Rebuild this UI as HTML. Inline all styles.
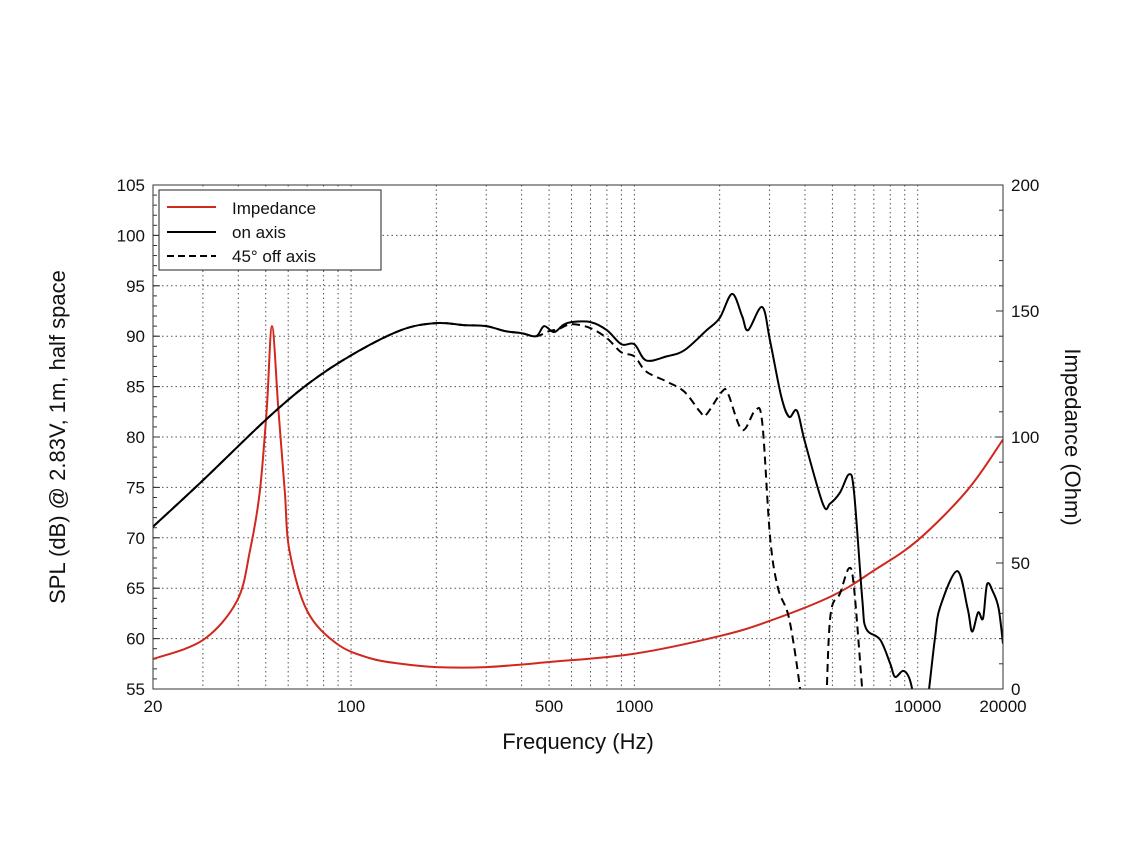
<!DOCTYPE html>
<html><head><meta charset="utf-8"><style>
body{margin:0;background:#fff}
svg text{font-family:"Liberation Sans",Arial,sans-serif;fill:#111}
</style></head><body>
<svg id="chart" width="1125" height="844" viewBox="0 0 1125 844" xmlns="http://www.w3.org/2000/svg">
<defs><clipPath id="clip"><rect x="153" y="185" width="850" height="504"/></clipPath></defs>
<rect x="0" y="0" width="1125" height="844" fill="#fff"/>
<g id="grid"></g>
<g id="axes"></g>
<g id="series" clip-path="url(#clip)"></g>
<rect x="153" y="185" width="850" height="504" fill="none" stroke="#333" stroke-width="1"/>
<text x="578" y="749" font-size="22" text-anchor="middle">Frequency (Hz)</text>
<text transform="translate(65,437) rotate(-90)" font-size="22" text-anchor="middle">SPL (dB) @ 2.83V, 1m, half space</text>
<text transform="translate(1065,437) rotate(90)" font-size="22" text-anchor="middle">Impedance (Ohm)</text>
<g>
<rect x="159" y="190" width="222" height="80" fill="#fff" stroke="#222" stroke-width="1"/>
<line x1="167" y1="207" x2="216" y2="207" stroke="#d0281e" stroke-width="2"/>
<text x="232" y="214" font-size="17">Impedance</text>
<line x1="167" y1="232" x2="216" y2="232" stroke="#000" stroke-width="2"/>
<text x="232" y="238" font-size="17">on axis</text>
<line x1="167" y1="256" x2="216" y2="256" stroke="#000" stroke-width="2" stroke-dasharray="7,4"/>
<text x="232" y="262" font-size="17">45° off axis</text>
</g>
</svg>
<script>
const xTickLabels=[20,100,500,1000,10000,20000];
const yTicks=[55,60,65,70,75,80,85,90,95,100,105];
const y2Ticks=[0,50,100,150,200];
const onFreq=[20,30,50,70,100,150,200,250,300,350,400,450,480,520,560,600,700,800,900,1000,1100,1300,1500,1800,2000,2213,2400,2520,2825,3014,3300,3516,3750,4000,4636,4907,5321,5730,5962,6369,6572,7365,8000,8317,8870,9300,9630,10000,10620,10967,11500,11990,13780,15000,15560,16340,17000,17580,18460,19300,20000];
const onDb=[71.1,75.7,81.7,85.2,88.1,90.6,91.3,91.1,91.0,90.5,90.3,90.0,91.0,90.4,91.1,91.4,91.4,90.6,89.2,89.2,87.6,88.0,88.6,90.6,91.8,94.2,92.0,90.6,92.9,89.5,84,82.0,82.6,79.5,73.3,73.4,74.5,76.3,74.5,64,61,59.9,57.5,56.2,56.8,56.2,54.5,51,52,55,60,63.1,66.7,63,60.7,62.6,62,65.4,64.6,63,59.5];
const offFreq=[20,30,50,70,100,150,200,250,300,350,400,450,500,540,600,700,800,900,1000,1100,1300,1500,1706,1790,2038,2140,2400,2667,2825,3014,3214,3516,3846,4000,4500,4700,4907,5321,5730,5962,6369,6600];
const offDb=[71.1,75.7,81.7,85.2,88.1,90.6,91.3,91.1,91.0,90.5,90.3,90.0,90.5,90.7,91.2,90.8,89.8,88.4,88.0,86.5,85.5,84.5,82.5,82.2,84.5,84.3,80.7,82.6,81.5,70,65,62,55,50,48,50,62,64.5,67,65,55,50];
const impFreq=[20,30,39.6,44,47.6,50.4,52.6,55.4,58.4,60.6,70,89,116,150,200,300,500,1000,2000,3000,5000,7000,10000,15000,20000];
const impOhm=[11.9,19.4,35,55,78,111,144,111,78,55,31,18,12.3,10,8.7,8.7,10.7,14,21,27,37,47,59,79,99];
const NS='http://www.w3.org/2000/svg';
const X0=153,X1=1003,Y0=689,Y1=185;
function xs(f){return X0+(X1-X0)*Math.log10(f/20)/3;}
function ys(d){return Y0-(d-55)*(Y0-Y1)/50;}
function yi(o){return Y0-o*(Y0-Y1)/200;}
function mk(tag,attrs,parent){const e=document.createElementNS(NS,tag);for(const k in attrs)e.setAttribute(k,attrs[k]);parent.appendChild(e);return e;}
const grid=document.getElementById('grid'),axes=document.getElementById('axes'),series=document.getElementById('series');
for(let dec=10;dec<=10000;dec*=10){for(let m=1;m<=9;m++){const f=dec*m;if(f<20||f>20000)continue;const x=xs(f);
 const l=mk('line',{x1:x,x2:x,y1:Y1,y2:Y0,stroke:'#555','stroke-width':1,'stroke-dasharray':'1.5,3'},grid);
 
 }}
yTicks.forEach(v=>{const y=ys(v);
 const l=mk('line',{x1:X0,x2:X1,y1:y,y2:y,stroke:'#555','stroke-width':1,'stroke-dasharray':'1.5,3'},grid);
 
 
 const t=mk('text',{x:X0-8,y:y+6,'font-size':17,'text-anchor':'end'},axes);t.textContent=v;
 
 
 mk('line',{x1:X0,x2:X0+7,y1:y,y2:y,stroke:'#333'},axes);});
for(let v=55;v<=105;v++){mk('line',{x1:X0,x2:X0+4,y1:ys(v),y2:ys(v),stroke:'#333'},axes);}
y2Ticks.forEach(v=>{const y=yi(v);
 const t=mk('text',{x:X1+8,y:y+6,'font-size':17,'text-anchor':'start'},axes);t.textContent=v;
 
 
 mk('line',{x1:X1-7,x2:X1,y1:y,y2:y,stroke:'#333'},axes);});
for(let v=0;v<=200;v+=10){mk('line',{x1:X1-4,x2:X1,y1:yi(v),y2:yi(v),stroke:'#333'},axes);}
xTickLabels.forEach(f=>{const x=xs(f);
 const t=mk('text',{x:x,y:Y0+23,'font-size':17,'text-anchor':'middle'},axes);t.textContent=f;
 
 });
function path(fr,vals,sy){const p=fr.map((f,i)=>[xs(f),sy(vals[i])]);let d='M'+p[0][0]+','+p[0][1];
 for(let i=0;i<p.length-1;i++){const a=p[Math.max(0,i-1)],b=p[i],c=p[i+1],e=p[Math.min(p.length-1,i+2)];
 const c1=[b[0]+(c[0]-a[0])/6,b[1]+(c[1]-a[1])/6],c2=[c[0]-(e[0]-b[0])/6,c[1]-(e[1]-b[1])/6];
 d+=' C'+c1.join(',')+' '+c2.join(',')+' '+c.join(',');}return d;}
const imp=mk('path',{d:path(impFreq,impOhm,yi),fill:'none',stroke:'#d0281e','stroke-width':2},series);


const off=mk('path',{d:path(offFreq,offDb,ys),fill:'none',stroke:'#000','stroke-width':2,'stroke-dasharray':'8,5'},series);


const on=mk('path',{d:path(onFreq,onDb,ys),fill:'none',stroke:'#000','stroke-width':2},series);


</script>
</body></html>
